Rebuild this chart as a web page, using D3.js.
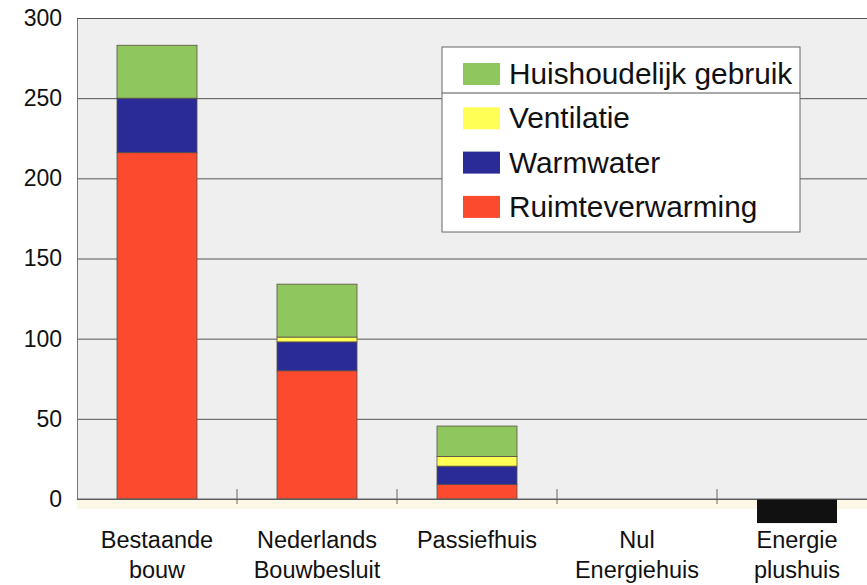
<!DOCTYPE html>
<html>
<head>
<meta charset="utf-8">
<script src="https://cdn.jsdelivr.net/npm/d3@7"></script>
<style>
  body { margin: 0; background: #fff; }
  svg { display: block; font-family: "Liberation Sans", Arial, sans-serif; }
</style>
</head>
<body>
<div id="vis"></div>
<script>
// categories, split in two lines as in the picture
const categories = ['Bestaande bouw', 'Nederlands Bouwbesluit', 'Passiefhuis', 'Nul Energiehuis', 'Energie plushuis'];
const categoryLines = [['Bestaande', 'bouw'], ['Nederlands', 'Bouwbesluit'], ['Passiefhuis'], ['Nul', 'Energiehuis'], ['Energie', 'plushuis']];

// energy use per category
const ruimteverwarming = [216, 80, 9, 0, 0];
const warmwater = [34, 18, 11.5, 0, 0];
const ventilatie = [0, 3, 6, 0, 0];
const huishoudelijk = [33, 33, 19, 0, 0];
// energy produced (below zero)
const opwekking = [0, 0, 0, 0, -15];

const yTicks = [0, 50, 100, 150, 200, 250, 300];

const keys = ['Ruimteverwarming', 'Warmwater', 'Ventilatie', 'Huishoudelijk gebruik'];
const legendOrder = ['Huishoudelijk gebruik', 'Ventilatie', 'Warmwater', 'Ruimteverwarming'];

const width = 867;
const height = 585;
const margin = { left: 77, top: 18 };
const plotRight = 877;
const zeroY = 499;

const colour = d3.scaleOrdinal()
  .domain(keys)
  .range(['#fc4a2e', '#2b2b98', '#ffff55', '#90c65e']);

// build table for the stack
const table = categories.map((c, i) => ({
  cat: c,
  'Ruimteverwarming': ruimteverwarming[i],
  'Warmwater': warmwater[i],
  'Ventilatie': ventilatie[i],
  'Huishoudelijk gebruik': huishoudelijk[i]
}));
const series = d3.stack().keys(keys)(table);

const x = d3.scaleBand()
  .domain(categories)
  .range([margin.left, plotRight])
  .paddingInner(0.5)
  .paddingOuter(0.25);

const y = d3.scaleLinear()
  .domain([0, 300])
  .range([zeroY, margin.top]);

const svg = d3.select('#vis').append('svg')
  .attr('width', width)
  .attr('height', height);

// plot background
svg.append('rect')
  .attr('x', margin.left).attr('y', y(300))
  .attr('width', plotRight - margin.left).attr('height', zeroY - y(300))
  .attr('fill', '#efefef');

// cream strip below the axis
svg.append('rect')
  .attr('x', margin.left).attr('y', zeroY)
  .attr('width', plotRight - margin.left).attr('height', 10)
  .attr('fill', '#fdf7e6');

// gridlines
svg.append('g')
  .attr('transform', `translate(${margin.left},0)`)
  .call(d3.axisLeft(y).tickValues(yTicks).tickSize(-(plotRight - margin.left)).tickFormat(''))
  .call(g => g.select('.domain').remove())
  .call(g => g.selectAll('line').attr('stroke', '#555').attr('stroke-width', 1));

// y axis labels
svg.append('g')
  .attr('transform', `translate(${margin.left},0)`)
  .call(d3.axisLeft(y).tickValues(yTicks).tickSize(0).tickPadding(15))
  .call(g => g.select('.domain').attr('stroke', '#777'))
  .call(g => g.selectAll('text')
    .attr('fill', '#111')
    .style('font-size', '23px')
    .style('font-family', '"Liberation Sans", Arial, sans-serif'));

// stacked bars
svg.append('g')
  .selectAll('g')
  .data(series)
  .join('g')
  .attr('fill', d => colour(d.key))
  .selectAll('rect')
  .data(d => d.filter(s => s[1] - s[0] > 0))
  .join('rect')
  .attr('x', d => x(d.data.cat))
  .attr('y', d => y(d[1]))
  .attr('width', x.bandwidth())
  .attr('height', d => y(d[0]) - y(d[1]))
  .attr('stroke', '#5a5045')
  .attr('stroke-width', 0.8);

// produced energy bar
svg.append('g')
  .selectAll('rect')
  .data(categories.filter((c, i) => opwekking[i] < 0))
  .join('rect')
  .attr('x', c => x(c))
  .attr('y', y(0))
  .attr('width', x.bandwidth())
  .attr('height', c => y(opwekking[categories.indexOf(c)]) - y(0))
  .attr('fill', '#111');

// x axis line
svg.append('line')
  .attr('x1', margin.left).attr('x2', plotRight)
  .attr('y1', zeroY).attr('y2', zeroY)
  .attr('stroke', '#666').attr('stroke-width', 1.2);

// tick marks between the categories
svg.append('g')
  .selectAll('line')
  .data(categories.slice(1))
  .join('line')
  .attr('x1', c => x(c) - x.step() / 4)
  .attr('x2', c => x(c) - x.step() / 4)
  .attr('y1', zeroY - 10)
  .attr('y2', zeroY + 5)
  .attr('stroke', '#666');

// category labels
const catLabels = svg.append('g')
  .selectAll('text')
  .data(categories)
  .join('text')
  .attr('x', c => x(c) + x.bandwidth() / 2)
  .attr('y', 548)
  .attr('text-anchor', 'middle')
  .style('font-size', '23.5px')
  .attr('fill', '#111');

catLabels.selectAll('tspan')
  .data((c, i) => categoryLines[i])
  .join('tspan')
  .attr('x', function () { return this.parentNode.getAttribute('x'); })
  .attr('dy', (d, i) => i === 0 ? 0 : 30)
  .text(d => d);

// legend
const legend = svg.append('g');
legend.append('rect')
  .attr('x', 442).attr('y', 47)
  .attr('width', 358).attr('height', 185)
  .attr('fill', '#fff')
  .attr('stroke', '#666');

legend.append('line')
  .attr('x1', 442).attr('x2', 800)
  .attr('y1', 93).attr('y2', 93)
  .attr('stroke', '#555');

const items = legend.selectAll('.item')
  .data(legendOrder)
  .join('g')
  .attr('class', 'item')
  .attr('transform', (d, i) => `translate(463,${63 + i * 44.3})`);

items.append('rect')
  .attr('width', 37).attr('height', 22)
  .attr('fill', d => colour(d));

items.append('text')
  .attr('x', 46)
  .attr('y', 21)
  .style('font-size', '29.8px')
  .attr('fill', '#111')
  .text(d => d);
</script>
</body>
</html>
